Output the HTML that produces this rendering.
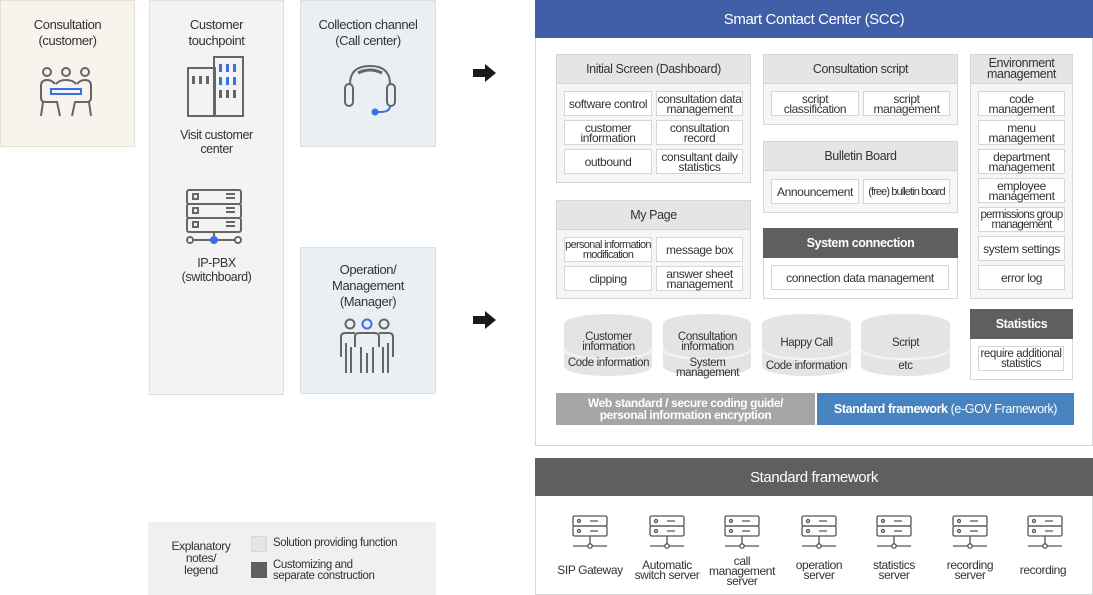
<!DOCTYPE html>
<html><head><meta charset="utf-8"><style>
*{box-sizing:border-box;margin:0;padding:0}
body{width:1093px;height:595px;background:#fff;position:relative;overflow:hidden;font-family:"Liberation Sans",sans-serif;color:#333;letter-spacing:-0.4px}
.a{position:absolute}
.c{display:flex;align-items:center;justify-content:center;text-align:center}
.sec{position:absolute;background:#f6f6f6;border:1px solid #d6d6d6}
.hd{position:absolute;left:-1px;right:-1px;top:-1px;background:#e5e5e5;border:1px solid #d6d6d6;font-size:12.5px;display:flex;align-items:center;justify-content:center;text-align:center;line-height:11px}
.dk{background:#5f5f5f;color:#fff;border-color:#5f5f5f;font-weight:bold}
.it{position:absolute;background:#fff;border:1px solid #d6d6d6;font-size:12px;line-height:10px;display:flex;align-items:center;justify-content:center;text-align:center}
.cy{position:absolute;width:89px;height:61px}
.cy .t{position:absolute;left:0;right:0;font-size:11.5px;line-height:10px;text-align:center}
.sv{position:absolute;top:513px;width:80px;text-align:center;font-size:12px;line-height:10px}
</style></head><body>
<div class="a" style="left:0;top:0;width:135px;height:147px;background:#f6f4ec;border:1px solid #e6e1d3"></div>
<div class="a" style="left:0;top:17px;width:135px;text-align:center;font-size:13px;line-height:16px">Consultation<br>(customer)</div>
<svg class="a" style="left:38px;top:66px" width="56" height="54" viewBox="0 0 56 54" fill="none" stroke="#666" stroke-width="2"><circle cx="9" cy="6" r="4"/><circle cx="28" cy="6" r="4"/><circle cx="47" cy="6" r="4"/><path d="M3 32V20q0-6 6-6 5 0 8 4M53 32V20q0-6-6-6-5 0-8 4M18 18q3-4 10-4 7 0 10 4M3 32q0 4 5 4h11l3 14M53 32q0 4-5 4H37l-3 14M5 36l-2 14M51 36l2 14"/><rect x="13" y="23" width="30" height="5" stroke="#3b6fe6"/></svg>

<div class="a" style="left:149px;top:0;width:135px;height:395px;background:#f3f3f3;border:1px solid #e0e0e0"></div>
<div class="a" style="left:149px;top:17px;width:135px;text-align:center;font-size:13px;line-height:16px">Customer<br>touchpoint</div>
<svg class="a" style="left:187px;top:56px" width="58" height="62" viewBox="0 0 58 62" fill="none" stroke="#666" stroke-width="2"><rect x="1" y="12" width="27" height="48"/><rect x="27" y="1" width="29" height="59"/><g fill="#666" stroke="none"><rect x="5" y="20" width="3" height="8"/><rect x="12" y="20" width="3" height="8"/><rect x="19" y="20" width="3" height="8"/><rect x="32" y="34" width="3" height="8"/><rect x="39" y="34" width="3" height="8"/><rect x="46" y="34" width="3" height="8"/></g><g fill="#3b6fe6" stroke="none"><rect x="32" y="8" width="3" height="8"/><rect x="39" y="8" width="3" height="8"/><rect x="46" y="8" width="3" height="8"/><rect x="32" y="21" width="3" height="8"/><rect x="39" y="21" width="3" height="8"/><rect x="46" y="21" width="3" height="8"/></g></svg>
<div class="a" style="left:149px;top:128px;width:135px;text-align:center;font-size:12.5px;line-height:14px">Visit customer<br>center</div>
<svg class="a" style="left:186px;top:189px" width="58" height="56" viewBox="0 0 58 56" fill="none" stroke="#666" stroke-width="2"><rect x="1" y="1" width="54" height="14" rx="2"/><rect x="1" y="15" width="54" height="14" rx="2"/><rect x="1" y="29" width="54" height="14" rx="2"/><rect x="7" y="5" width="5" height="5"/><rect x="7" y="19" width="5" height="5"/><rect x="7" y="33" width="5" height="5"/><path d="M40 5h9M40 9h9M40 19h9M40 23h9M40 33h9M40 37h9M28 43v8M6 51h44"/><circle cx="4" cy="51" r="3" fill="#fff"/><circle cx="52" cy="51" r="3" fill="#fff"/><circle cx="28" cy="51" r="3" fill="#3b6fe6" stroke="#3b6fe6"/></svg>
<div class="a" style="left:149px;top:256px;width:135px;text-align:center;font-size:12.5px;line-height:14px">IP-PBX<br>(switchboard)</div>

<div class="a" style="left:300px;top:0;width:136px;height:147px;background:#e9eff3;border:1px solid #d8e1e7"></div>
<div class="a" style="left:300px;top:17px;width:136px;text-align:center;font-size:13px;line-height:16px">Collection channel<br>(Call center)</div>
<svg class="a" style="left:342px;top:64px" width="56" height="52" viewBox="0 0 56 52" fill="none" stroke="#666" stroke-width="2"><path d="M8 20Q8 2 28 2T48 20"/><path d="M16 9q12-6 24 0" stroke-width="3"/><rect x="3" y="20" width="8" height="22" rx="4"/><rect x="45" y="20" width="8" height="22" rx="4"/><path d="M48 42q0 6-10 6h-4" stroke="#3b6fe6"/><circle cx="33" cy="48" r="2.5" fill="#3b6fe6" stroke="#3b6fe6"/></svg>

<div class="a" style="left:300px;top:247px;width:136px;height:147px;background:#e9eff3;border:1px solid #d8e1e7"></div>
<div class="a" style="left:300px;top:262px;width:136px;text-align:center;font-size:13px;line-height:16px">Operation/<br>Management<br>(Manager)</div>
<svg class="a" style="left:338px;top:317px" width="58" height="58" viewBox="0 0 58 58" fill="none" stroke="#666" stroke-width="2"><circle cx="12" cy="7" r="4.5"/><circle cx="29" cy="7" r="4.5" stroke="#3b6fe6"/><circle cx="46" cy="7" r="4.5"/><path d="M3 40V20q0-4 4-4h10M55 40V20q0-4-4-4H41M17 30V20q0-4 4-4h16q4 0 4 4v10M8 26v30M13 30v26M23 30v26M29 36v20M35 30v26M45 30v26M50 26v30"/></svg>

<svg class="a" style="left:473px;top:64px" width="24" height="18"><path d="M0 5h12V0l11 9-11 9v-5H0z" fill="#1a1a1a"/></svg>
<svg class="a" style="left:473px;top:311px" width="24" height="18"><path d="M0 5h12V0l11 9-11 9v-5H0z" fill="#1a1a1a"/></svg>

<div class="a" style="left:148px;top:522px;width:288px;height:73px;background:#f0f0f0"></div>
<div class="a" style="left:160px;top:540px;width:82px;text-align:center;font-size:12px;line-height:12px">Explanatory<br>notes/<br>legend</div>
<div class="a" style="left:251px;top:536px;width:16px;height:16px;background:#e6e6e6;border:1px solid #d8d8d8"></div>
<div class="a" style="left:251px;top:562px;width:16px;height:16px;background:#5f5f5f"></div>
<div class="a" style="left:273px;top:538px;font-size:11.5px;line-height:11px">Solution providing function</div>
<div class="a" style="left:273px;top:560px;font-size:11.5px;line-height:11px">Customizing and<br>separate construction</div>

<div class="a" style="left:535px;top:0;width:558px;height:446px;border:1px solid #d6d6d6"></div>
<div class="a c" style="left:535px;top:0;width:558px;height:38px;background:#405fa8;color:#fff;font-size:15px">Smart Contact Center (SCC)</div>

<div class="sec" style="left:556px;top:54px;width:195px;height:129px"><div class="hd" style="height:30px">Initial Screen (Dashboard)</div></div>
<div class="it" style="left:564px;top:91px;width:88px;height:25px">software control</div>
<div class="it" style="left:656px;top:91px;width:87px;height:25px">consultation data<br>management</div>
<div class="it" style="left:564px;top:120px;width:88px;height:25px">customer<br>information</div>
<div class="it" style="left:656px;top:120px;width:87px;height:25px">consultation<br>record</div>
<div class="it" style="left:564px;top:149px;width:88px;height:25px">outbound</div>
<div class="it" style="left:656px;top:149px;width:87px;height:25px">consultant daily<br>statistics</div>

<div class="sec" style="left:556px;top:200px;width:195px;height:99px"><div class="hd" style="height:30px">My Page</div></div>
<div class="it" style="left:564px;top:237px;width:88px;height:25px;font-size:11px;letter-spacing:-0.7px">personal information<br>modification</div>
<div class="it" style="left:656px;top:237px;width:87px;height:25px">message box</div>
<div class="it" style="left:564px;top:266px;width:88px;height:25px">clipping</div>
<div class="it" style="left:656px;top:266px;width:87px;height:25px">answer sheet<br>management</div>

<div class="sec" style="left:763px;top:54px;width:195px;height:71px"><div class="hd" style="height:30px">Consultation script</div></div>
<div class="it" style="left:771px;top:91px;width:88px;height:25px">script<br>classification</div>
<div class="it" style="left:863px;top:91px;width:87px;height:25px">script<br>management</div>

<div class="sec" style="left:763px;top:141px;width:195px;height:72px"><div class="hd" style="height:30px">Bulletin Board</div></div>
<div class="it" style="left:771px;top:179px;width:88px;height:25px">Announcement</div>
<div class="it" style="left:863px;top:179px;width:87px;height:25px;font-size:11px;letter-spacing:-0.9px;white-space:nowrap">(free) bulletin board</div>

<div class="sec" style="left:763px;top:228px;width:195px;height:71px;background:#fff"><div class="hd dk" style="height:30px">System connection</div></div>
<div class="it" style="left:771px;top:265px;width:178px;height:25px">connection data management</div>

<div class="sec" style="left:970px;top:54px;width:103px;height:245px"><div class="hd" style="height:30px">Environment<br>management</div></div>
<div class="it" style="left:978px;top:91px;width:87px;height:25px">code<br>management</div>
<div class="it" style="left:978px;top:120px;width:87px;height:25px">menu<br>management</div>
<div class="it" style="left:978px;top:149px;width:87px;height:25px">department<br>management</div>
<div class="it" style="left:978px;top:178px;width:87px;height:25px">employee<br>management</div>
<div class="it" style="left:978px;top:207px;width:87px;height:25px;font-size:11.5px;letter-spacing:-0.7px">permissions group<br>management</div>
<div class="it" style="left:978px;top:236px;width:87px;height:25px">system settings</div>
<div class="it" style="left:978px;top:265px;width:87px;height:25px">error log</div>

<div class="sec" style="left:970px;top:309px;width:103px;height:71px;background:#fff"><div class="hd dk" style="height:30px">Statistics</div></div>
<div class="it" style="left:978px;top:346px;width:86px;height:25px;font-size:11.5px">require additional<br>statistics</div>

<svg class="a" style="left:0;top:0" width="1093" height="595">
<g fill="#e4e4e4">
<path d="M564 324a44 10 0 0 1 88 0v42a44 10 0 0 1-88 0z"/>
<path d="M663 324a44 10 0 0 1 88 0v42a44 10 0 0 1-88 0z"/>
<path d="M762 324a44 10 0 0 1 89 0v42a44 10 0 0 1-89 0z"/>
<path d="M861 324a44 10 0 0 1 89 0v42a44 10 0 0 1-89 0z"/>
</g>
<g fill="none" stroke="#f4f4f4" stroke-width="2">
<path d="M564 349a44 10 0 0 0 88 0M663 349a44 10 0 0 0 88 0M762 349a44 10 0 0 0 89 0M861 349a44 10 0 0 0 89 0"/>
</g>
</svg>
<div class="cy" style="left:564px;top:314px"><div class="t" style="top:18px">Customer<br>information</div><div class="t" style="top:44px">Code information</div></div>
<div class="cy" style="left:663px;top:314px"><div class="t" style="top:18px">Consultation<br>information</div><div class="t" style="top:44px">System<br>management</div></div>
<div class="cy" style="left:762px;top:314px"><div class="t" style="top:24px">Happy Call</div><div class="t" style="top:47px">Code information</div></div>
<div class="cy" style="left:861px;top:314px"><div class="t" style="top:24px">Script</div><div class="t" style="top:47px">etc</div></div>

<div class="a c" style="left:556px;top:393px;width:259px;height:32px;background:#a5a5a5;color:#fff;font-weight:bold;font-size:12px;line-height:12px">Web standard / secure coding guide/<br>personal information encryption</div>
<div class="a c" style="left:817px;top:393px;width:257px;height:32px;background:#4783bf;color:#fff;font-size:12.5px"><b>Standard framework</b>&nbsp;(e-GOV Framework)</div>

<div class="a" style="left:535px;top:458px;width:558px;height:137px;border:1px solid #d6d6d6"></div>
<div class="a c" style="left:535px;top:458px;width:558px;height:38px;background:#5f5f5f;color:#fff;font-size:15px">Standard framework</div>
<svg class="a" style="left:0;top:0" width="1093" height="595" fill="none" stroke="#555" stroke-width="1.3">
<defs><g id="s"><rect x="-17" y="0" width="34" height="10" rx="1.5"/><rect x="-17" y="10" width="34" height="10" rx="1.5"/><circle cx="-11" cy="5" r="1.5"/><circle cx="-11" cy="15" r="1.5"/><path d="M0 5h8M0 15h8M0 20v8M-17 30h34"/><circle cx="0" cy="30" r="2.2" fill="#fff"/></g></defs>
<use href="#s" x="590" y="516"/><use href="#s" x="667" y="516"/><use href="#s" x="742" y="516"/><use href="#s" x="819" y="516"/><use href="#s" x="894" y="516"/><use href="#s" x="970" y="516"/><use href="#s" x="1045" y="516"/>
</svg>
<div class="sv" style="left:550px;top:565px">SIP Gateway</div>
<div class="sv" style="left:627px;top:560px">Automatic<br>switch server</div>
<div class="sv" style="left:702px;top:556px">call<br>management<br>server</div>
<div class="sv" style="left:779px;top:560px">operation<br>server</div>
<div class="sv" style="left:854px;top:560px">statistics<br>server</div>
<div class="sv" style="left:930px;top:560px">recording<br>server</div>
<div class="sv" style="left:1003px;top:565px">recording</div>
</body></html>
